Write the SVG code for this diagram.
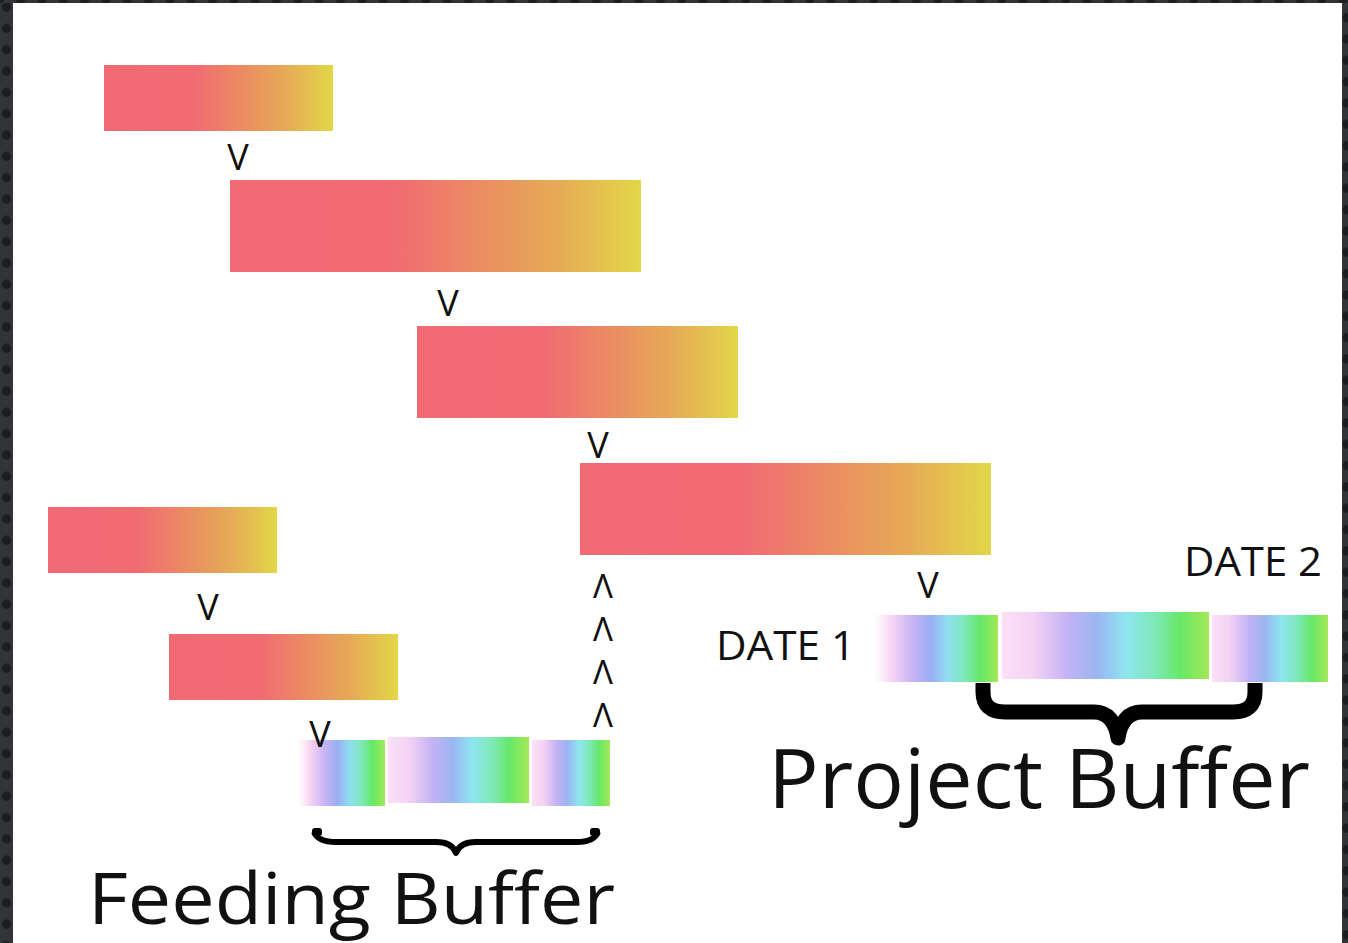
<svg xmlns="http://www.w3.org/2000/svg" width="1348" height="943" viewBox="0 0 1348 943">
  <defs>
    <pattern id="dotsV" x="0" y="-3.7" width="13" height="21.33" patternUnits="userSpaceOnUse">
      <rect width="13" height="21.33" fill="#333438"/>
      <circle cx="6.5" cy="10.7" r="4.6" fill="#1c1d20"/>
    </pattern>
    <pattern id="dotsR" x="1342" y="7" width="8" height="21.33" patternUnits="userSpaceOnUse">
      <rect width="8" height="21.33" fill="#333438"/>
      <circle cx="5" cy="10.7" r="4.6" fill="#1c1d20"/>
    </pattern>
    <pattern id="dotsT" x="10" y="0" width="21.33" height="4" patternUnits="userSpaceOnUse">
      <rect width="21.33" height="4" fill="#333438"/>
      <circle cx="10.7" cy="-1" r="4.6" fill="#1c1d20"/>
    </pattern>
    <linearGradient id="warm" x1="0" y1="0" x2="1" y2="0">
      <stop offset="0" stop-color="#f06a74"/>
      <stop offset="0.4" stop-color="#f06c72"/>
      <stop offset="0.58" stop-color="#ec8864"/>
      <stop offset="0.8" stop-color="#e6ab56"/>
      <stop offset="1" stop-color="#e2d748"/>
    </linearGradient>
    <linearGradient id="rainFade" x1="0" y1="0" x2="1" y2="0">
      <stop offset="0" stop-color="#fbe4f6" stop-opacity="0"/>
      <stop offset="0.14" stop-color="#f8d6f4"/>
      <stop offset="0.32" stop-color="#c7b2f4"/>
      <stop offset="0.46" stop-color="#9aaef3"/>
      <stop offset="0.6" stop-color="#8edff0"/>
      <stop offset="0.72" stop-color="#7fe8c0"/>
      <stop offset="0.86" stop-color="#66e866"/>
      <stop offset="1" stop-color="#a2e858"/>
    </linearGradient>
    <linearGradient id="rain" x1="0" y1="0" x2="1" y2="0">
      <stop offset="0" stop-color="#fbe0f6"/>
      <stop offset="0.15" stop-color="#f4d2f4"/>
      <stop offset="0.32" stop-color="#c2b2f4"/>
      <stop offset="0.46" stop-color="#9ab6f2"/>
      <stop offset="0.6" stop-color="#8ee6f0"/>
      <stop offset="0.74" stop-color="#7ee8b6"/>
      <stop offset="0.86" stop-color="#66e868"/>
      <stop offset="1" stop-color="#a4e858"/>
    </linearGradient>
    <style>
      .bar { fill: url(#warm); }
      .v { font-family: "Open Sans", "DejaVu Sans", sans-serif; font-size: 36px; fill: #111; text-anchor: middle; }
      .up { font-size: 33px; }
      .lbl { font-family: "Open Sans", "DejaVu Sans", sans-serif; fill: #111; }
      .brace { fill: none; stroke: #000; stroke-linejoin: round; }
    </style>
  </defs>

  <!-- background frame -->
  <rect x="0" y="0" width="1348" height="943" fill="#ffffff"/>
  <rect x="0" y="0" width="13" height="943" fill="url(#dotsV)"/>
  <rect x="1342" y="0" width="6" height="943" fill="url(#dotsR)"/>
  <rect x="0" y="0" width="1348" height="3" fill="url(#dotsT)"/>

  <!-- task bars -->
  <g id="task1"><rect class="bar" x="104" y="65" width="229" height="66"/></g>
  <g id="task2"><rect class="bar" x="230" y="180" width="411" height="92"/></g>
  <g id="task3"><rect class="bar" x="417" y="326" width="321" height="92"/></g>
  <g id="task4"><rect class="bar" x="580" y="463" width="411" height="92"/></g>
  <g id="task5"><rect class="bar" x="48" y="507" width="229" height="66"/></g>
  <g id="task6"><rect class="bar" x="169" y="634" width="229" height="66"/></g>

  <!-- feeding buffer -->
  <g id="feeding-buffer">
    <rect x="297" y="740" width="88" height="66" fill="url(#rainFade)"/>
    <rect x="388" y="737" width="141" height="66" fill="url(#rain)"/>
    <rect x="532" y="740" width="78" height="66" fill="url(#rain)"/>
    <path class="brace" stroke-width="6" d="M314 832 Q318 842 336 842 H436 Q452 842 456 853 Q460 842 476 842 H577 Q594 842 598 832"/>
    <rect x="312" y="828" width="10" height="8" rx="3" fill="#000"/>
    <rect x="590" y="828" width="10" height="8" rx="3" fill="#000"/>
    <text class="lbl" x="88" y="924" font-size="72" textLength="527" lengthAdjust="spacingAndGlyphs">Feeding Buffer</text>
  </g>

  <!-- project buffer -->
  <g id="project-buffer">
    <rect x="873" y="615" width="125" height="67" fill="url(#rainFade)"/>
    <rect x="1002" y="612" width="207" height="67" fill="url(#rain)"/>
    <rect x="1212" y="615" width="116" height="67" fill="url(#rain)"/>
    <path class="brace" stroke-width="15" d="M983 683 V692 Q983 712 1005 712 H1094 Q1114 712 1118 738 Q1122 712 1142 712 H1233 Q1255 712 1255 692 V683"/>
    <text class="lbl" x="768" y="808" font-size="82" textLength="542" lengthAdjust="spacingAndGlyphs">Project Buffer</text>
  </g>

  <g id="date1"><text class="lbl" x="716" y="660" font-size="40" textLength="139" lengthAdjust="spacingAndGlyphs">DATE 1</text></g>
  <g id="date2"><text class="lbl" x="1184" y="576" font-size="40" textLength="138" lengthAdjust="spacingAndGlyphs">DATE 2</text></g>

  <!-- connectors (dependency marks) -->
  <g id="connectors">
    <text class="v" x="238" y="170">V</text>
    <text class="v" x="448" y="316">V</text>
    <text class="v" x="598" y="458">V</text>
    <text class="v" x="208" y="620">V</text>
    <text class="v" x="320" y="747">V</text>
    <text class="v" x="928" y="598">V</text>
    <text class="v up" x="603" y="598">Λ</text>
    <text class="v up" x="603" y="641">Λ</text>
    <text class="v up" x="603" y="684">Λ</text>
    <text class="v up" x="603" y="727">Λ</text>
  </g>
</svg>
